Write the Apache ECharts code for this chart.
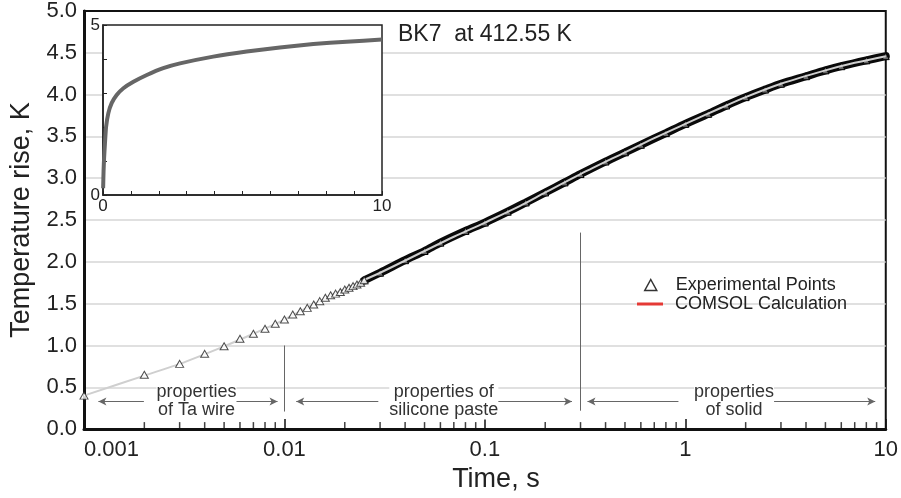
<!DOCTYPE html>
<html>
<head>
<meta charset="utf-8">
<title>BK7 transient hot wire</title>
<script src="https://cdn.jsdelivr.net/npm/echarts@6/dist/echarts.min.js"></script>
<style>
  html, body { margin: 0; padding: 0; background: #fff; }
  #chart { width: 901px; height: 498px; }
</style>
</head>
<body>
<div id="chart"></div>
<script>
const FONT = '"Liberation Sans", Arial, Helvetica, sans-serif';

// measured points, early part where single samples are visible (s, K)
const expTimeEarly = [0.001, 0.002, 0.003, 0.004, 0.005, 0.006, 0.007, 0.008, 0.009, 0.010,
  0.011, 0.012, 0.013, 0.014, 0.015, 0.016, 0.017, 0.018, 0.019, 0.020,
  0.021, 0.022, 0.023, 0.024, 0.025];
const expTempEarly = [0.40, 0.65, 0.78, 0.90, 0.99, 1.08, 1.14, 1.20, 1.26, 1.31,
  1.37, 1.41, 1.45, 1.49, 1.53, 1.57, 1.60, 1.62, 1.64, 1.67,
  1.69, 1.71, 1.73, 1.75, 1.78];

// measured points, dense part (they merge into a black band)
const expTimeLate = [0.025, 0.03, 0.04, 0.05, 0.06, 0.08, 0.1, 0.13, 0.16, 0.2, 0.25, 0.3,
  0.4, 0.5, 0.6, 0.8, 1.0, 1.3, 1.6, 2.0, 2.5, 3.0, 4.0, 5.0, 6.0, 8.0, 10];
const expTempLate = [1.78, 1.87, 2.02, 2.13, 2.23, 2.37, 2.47, 2.60, 2.71, 2.83, 2.95, 3.05,
  3.20, 3.31, 3.40, 3.54, 3.65, 3.77, 3.87, 3.97, 4.06, 4.13, 4.22, 4.29, 4.34, 4.41, 4.46];

// COMSOL model curve
const calcTime = [0.001, 0.002, 0.003, 0.005, 0.007, 0.01, 0.015, 0.02, 0.03, 0.05, 0.07, 0.1,
  0.15, 0.2, 0.3, 0.5, 0.7, 1.0, 1.5, 2.0, 3.0, 5.0, 7.0, 10];
const calcTemp = [0.40, 0.64, 0.78, 0.99, 1.14, 1.31, 1.53, 1.68, 1.87, 2.13, 2.30, 2.47,
  2.67, 2.83, 3.05, 3.31, 3.48, 3.65, 3.84, 3.97, 4.13, 4.29, 4.38, 4.46];

// inset, linear time scale
const insetTime = [0.005, 0.02, 0.04, 0.07, 0.11, 0.19, 0.31, 0.49, 0.73, 1.09, 1.57, 2.16,
  2.76, 3.95, 5.15, 6.34, 7.54, 8.73, 10];
const insetTemp = [0.2, 0.7, 1.1, 1.52, 2.0, 2.4, 2.7, 2.94, 3.14, 3.33, 3.53, 3.73,
  3.87, 4.07, 4.22, 4.34, 4.44, 4.51, 4.57];

// minor ticks of the log time axis
const minorTicks = [0.002, 0.003, 0.004, 0.005, 0.006, 0.007, 0.008, 0.009,
  0.02, 0.03, 0.04, 0.05, 0.06, 0.07, 0.08, 0.09,
  0.2, 0.3, 0.4, 0.5, 0.6, 0.7, 0.8, 0.9,
  2, 3, 4, 5, 6, 7, 8, 9];

function pairs(xs, ys) {
  return xs.map((x, i) => [x, ys[i]]);
}

// region separators and arrows, in data coordinates
function arrow(from, to, y) {
  return [{ coord: [from, y], symbol: 'arrow', symbolSize: [6, 8] }, { coord: [to, y], symbol: 'none' }];
}
function vline(t, y0, y1) {
  return [{ coord: [t, y0], symbol: 'none' }, { coord: [t, y1], symbol: 'none' }];
}

const legendText = { fontSize: 18, color: '#222', fontFamily: FONT };

const chart = echarts.init(document.getElementById('chart'));
chart.setOption({
  animation: false,
  textStyle: { fontFamily: FONT },
  title: {
    text: 'BK7  at 412.55 K',
    left: 398, top: 23, padding: 0,
    textStyle: { fontSize: 23, fontWeight: 'normal', color: '#222', fontFamily: FONT }
  },
  legend: [
    {
      left: 639, top: 271, itemWidth: 12, itemHeight: 11, selectedMode: false,
      textStyle: Object.assign({ padding: [0, 0, 0, 14] }, legendText),
      data: [{ name: 'Experimental Points', icon: 'triangle',
        itemStyle: { color: '#fff', borderColor: '#333', borderWidth: 1.5 } }]
    },
    {
      left: 632, top: 290, itemWidth: 26, itemHeight: 3, selectedMode: false,
      textStyle: Object.assign({ padding: [0, 0, 0, 7] }, legendText),
      data: [{ name: 'COMSOL Calculation', icon: 'rect',
        itemStyle: { color: '#e53935', borderWidth: 0 } }]
    }
  ],
  grid: [
    { left: 84, right: 14, top: 11, bottom: 63, show: true,
      borderColor: '#111', borderWidth: 2, backgroundColor: 'transparent' },
    { left: 103, top: 25, width: 279, height: 170, show: true, z: 10,
      backgroundColor: '#fff', borderColor: '#222', borderWidth: 1.5 }
  ],
  xAxis: [
    {
      type: 'log', gridIndex: 0, logBase: 10, min: 0.001, max: 10,
      name: 'Time, s', nameLocation: 'middle', nameGap: 36,
      nameTextStyle: { fontSize: 27, color: '#222', padding: [0, 0, 0, 22] },
      axisLine: { lineStyle: { color: '#111', width: 3 } },
      axisTick: { inside: true, length: 10, lineStyle: { color: '#111', width: 1.5 } },
      axisLabel: {
        fontSize: 22, color: '#222', margin: 10, alignMinLabel: 'left',
        formatter: v => String(parseFloat(Number(v).toPrecision(2)))
      },
      splitLine: { show: false }
    },
    {
      type: 'value', gridIndex: 1, min: 0, max: 10, interval: 1, z: 11,
      axisLine: { lineStyle: { color: '#222', width: 1.5 } },
      axisTick: { inside: true, length: 4, lineStyle: { color: '#222', width: 1 } },
      axisLabel: {
        fontSize: 17, color: '#222', margin: 3,
        formatter: v => (v === 0 || v === 10) ? String(v) : ''
      },
      splitLine: { show: false }
    }
  ],
  yAxis: [
    {
      type: 'value', gridIndex: 0, min: 0, max: 5, interval: 0.5,
      name: 'Temperature rise, K', nameLocation: 'middle', nameGap: 47,
      nameTextStyle: { fontSize: 27, color: '#222' },
      axisLine: { show: true, lineStyle: { color: '#111', width: 3 } },
      axisTick: { show: false },
      axisLabel: { fontSize: 22, color: '#222', margin: 7, formatter: v => v.toFixed(1) },
      splitLine: { showMinLine: false, showMaxLine: false, lineStyle: { color: '#d6d6d6', width: 1.5 } }
    },
    {
      type: 'value', gridIndex: 1, min: 0, max: 5, interval: 1, z: 11,
      axisLine: { show: true, lineStyle: { color: '#222', width: 1.5 } },
      axisTick: { show: true, inside: true, length: 4, lineStyle: { color: '#222', width: 1 } },
      axisLabel: {
        fontSize: 17, color: '#222', margin: 3,
        formatter: v => (v === 0 || v === 5) ? String(v) : ''
      },
      splitLine: { show: false }
    }
  ],
  series: [
    {
      name: 'Experimental Points', type: 'line', xAxisIndex: 0, yAxisIndex: 0,
      data: pairs(expTimeLate, expTempLate),
      smooth: 0.3, z: 2,
      lineStyle: { color: '#0a0a0a', width: 8, cap: 'round' },
      symbol: 'triangle', symbolSize: 7, showSymbol: true,
      itemStyle: { color: '#6a6a6a', borderColor: '#000', borderWidth: 1 }
    },
    {
      name: 'COMSOL Calculation', type: 'line', xAxisIndex: 0, yAxisIndex: 0,
      data: pairs(calcTime, calcTemp),
      smooth: 0.3, z: 3, symbol: 'none',
      lineStyle: { color: '#cfcfcf', width: 2 },
      markLine: {
        silent: true, animation: false,
        lineStyle: { color: '#666', width: 1, type: 'solid' },
        label: { show: false },
        data: [
          vline(0.01, 1.0, 0.21),
          vline(0.3, 2.35, 0.22),
          arrow(0.00118, 0.00199, 0.33),
          arrow(0.00924, 0.00515, 0.33),
          arrow(0.01145, 0.0294, 0.33),
          arrow(0.272, 0.1057, 0.33),
          arrow(0.325, 0.924, 0.33),
          arrow(8.86, 2.73, 0.33)
        ]
      },
      markPoint: {
        silent: true, animation: false,
        symbol: 'rect', symbolSize: 0,
        label: {
          show: true, position: 'inside', color: '#333', fontSize: 18, lineHeight: 18,
          fontFamily: FONT, backgroundColor: '#fff'
        },
        data: [
          { coord: [0.00364, 0.33], label: { formatter: 'properties\nof Ta wire' } },
          { coord: [0.0624, 0.33], label: { formatter: 'properties of\nsilicone paste' } },
          { coord: [1.75, 0.33], label: { formatter: 'properties\nof solid' } }
        ]
      }
    },
    {
      name: 'Experimental Points', type: 'scatter', xAxisIndex: 0, yAxisIndex: 0,
      data: pairs(expTimeEarly, expTempEarly),
      symbol: 'triangle', symbolSize: [8, 7], z: 4, clip: false,
      itemStyle: { color: '#fff', borderColor: '#222', borderWidth: 1 }
    },
    {
      name: 'minor ticks', type: 'scatter', xAxisIndex: 0, yAxisIndex: 0,
      data: minorTicks.map(t => [t, 0]),
      symbol: 'rect', symbolSize: [1.5, 7], symbolOffset: [0, -3.5],
      silent: true, clip: false, z: 5,
      itemStyle: { color: '#111' }
    },
    {
      name: 'inset', type: 'line', xAxisIndex: 1, yAxisIndex: 1,
      data: pairs(insetTime, insetTemp),
      smooth: 0.2, showSymbol: false, z: 12,
      lineStyle: { color: '#666', width: 4 }
    }
  ]
});
</script>
</body>
</html>
